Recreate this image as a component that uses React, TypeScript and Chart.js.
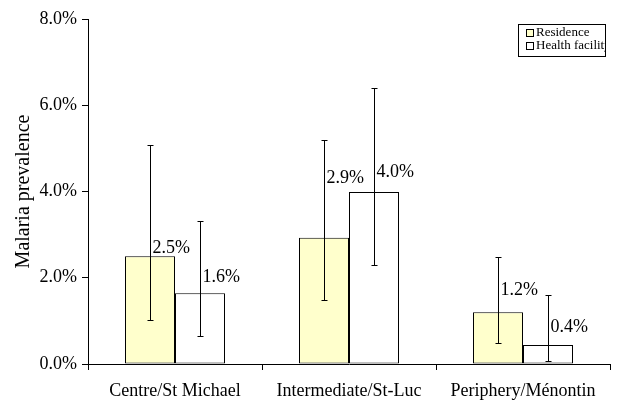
import React, { useEffect, useRef } from "react";
import { Chart, registerables } from "chart.js";

Chart.register(...registerables);

const categories = ["Centre/St Michael", "Intermediate/St-Luc", "Periphery/Ménontin"];
const seriesNames = ["Residence", "Health facility"];
const residence = [2.5, 2.93, 1.2];
const healthFacility = [1.64, 3.99, 0.44];
const residenceLow = [1.02, 1.48, 0.49];
const residenceHigh = [5.08, 5.2, 2.47];
const healthLow = [0.65, 2.3, 0.07];
const healthHigh = [3.32, 6.39, 1.6];
const yTicks = [0, 2, 4, 6, 8];

const FONT = "'Liberation Serif', 'Times New Roman', serif";
const FILLS = ["#FFFFCC", "#FFFFFF"];
// vertical lift (px) of each value label above its bar top, per series
const LABEL_LIFT = [
  [8, 59, 22],
  [16, 20, 18],
];

const errorLows = [residenceLow, healthLow];
const errorHighs = [residenceHigh, healthHigh];

const overlayPlugin = {
  id: "overlay",
  afterDatasetsDraw(chart: any) {
    const ctx = chart.ctx;
    const yScale = chart.scales.y;
    ctx.save();
    for (let d = 0; d < chart.data.datasets.length; d++) {
      const meta = chart.getDatasetMeta(d);
      const values = chart.data.datasets[d].data as number[];
      meta.data.forEach((bar: any, j: number) => {
        const x = Math.round(bar.x) + 0.5;
        const yHi = Math.round(yScale.getPixelForValue(errorHighs[d][j])) + 0.5;
        const yLo = Math.round(yScale.getPixelForValue(errorLows[d][j])) + 0.5;
        ctx.strokeStyle = "#000";
        ctx.lineWidth = 1;
        ctx.beginPath();
        ctx.moveTo(x, yHi);
        ctx.lineTo(x, yLo);
        ctx.moveTo(x - 3, yHi);
        ctx.lineTo(x + 3, yHi);
        ctx.moveTo(x - 3, yLo);
        ctx.lineTo(x + 3, yLo);
        ctx.stroke();
        ctx.fillStyle = "#000";
        ctx.font = `18px ${FONT}`;
        ctx.textAlign = "left";
        ctx.textBaseline = "middle";
        ctx.fillText(values[j].toFixed(1) + "%", x + 2, bar.y - LABEL_LIFT[d][j]);
      });
    }
    ctx.restore();
  },
  afterDraw(chart: any) {
    const ctx = chart.ctx;
    const bx = 518, by = 24, bw = 87, bh = 32;
    ctx.save();
    ctx.fillStyle = "#fff";
    ctx.fillRect(bx, by, bw, bh);
    ctx.strokeStyle = "#000";
    ctx.lineWidth = 1;
    ctx.strokeRect(bx + 0.5, by + 0.5, bw, bh);
    ctx.beginPath();
    ctx.rect(bx + 1, by + 1, bw - 1, bh - 1);
    ctx.clip();
    seriesNames.forEach((name, i) => {
      const cy = by + 9 + i * 13;
      ctx.fillStyle = FILLS[i];
      ctx.fillRect(bx + 8, cy - 4, 7, 7);
      ctx.strokeStyle = "#000";
      ctx.strokeRect(bx + 8.5, cy - 3.5, 7, 7);
      ctx.fillStyle = "#000";
      ctx.font = `13px ${FONT}`;
      ctx.textAlign = "left";
      ctx.textBaseline = "middle";
      ctx.fillText(name, bx + 18, cy);
    });
    ctx.restore();
  },
};

export default function App() {
  const ref = useRef<HTMLCanvasElement | null>(null);
  useEffect(() => {
    document.body.style.margin = "0";
    const canvas = ref.current!;
    const chart = new Chart(canvas, {
      type: "bar",
      data: {
        labels: categories,
        datasets: [residence, healthFacility].map((vals, i) => ({
          label: seriesNames[i],
          data: vals,
          backgroundColor: FILLS[i],
          borderColor: "#000",
          borderWidth: 1,
          borderSkipped: false,
          categoryPercentage: 100 / 174,
          barPercentage: 1,
        })),
      },
      options: {
        responsive: false,
        animation: false,
        devicePixelRatio: 1,
        layout: { padding: { top: 19, right: 9, left: 0, bottom: 0 } },
        plugins: { legend: { display: false }, tooltip: { enabled: false } },
        scales: {
          x: {
            offset: true,
            ticks: {
              color: "#000",
              font: { family: FONT, size: 18 },
              padding: 10,
              maxRotation: 0,
              autoSkip: false,
            },
            grid: {
              display: true,
              offset: true,
              drawOnChartArea: false,
              drawTicks: true,
              tickLength: 6,
              color: "#000",
            },
            border: { display: true, color: "#000", width: 1 },
            afterFit: (s: any) => {
              s.height = 36;
              s.paddingLeft = 0;
              s.paddingRight = 0;
            },
          },
          y: {
            min: 0,
            max: 8,
            afterBuildTicks: (s: any) => {
              s.ticks = yTicks.map((v) => ({ value: v }));
            },
            ticks: {
              color: "#000",
              font: { family: FONT, size: 18 },
              padding: 5,
              callback: (v: any) => Number(v).toFixed(1) + "%",
            },
            grid: {
              display: true,
              drawOnChartArea: false,
              drawTicks: true,
              tickLength: 6,
              color: "#000",
            },
            border: { display: true, color: "#000", width: 1 },
            title: {
              display: true,
              text: "Malaria prevalence",
              color: "#000",
              font: { family: FONT, size: 20 },
              padding: { top: 12, bottom: 0 },
            },
            afterFit: (s: any) => {
              s.width = 88;
              s.paddingTop = 0;
              s.paddingBottom = 0;
            },
          },
        },
      },
      plugins: [overlayPlugin],
    });
    return () => chart.destroy();
  }, []);
  return (
    <div style={{ width: 619, height: 400 }}>
      <canvas ref={ref} width={619} height={400} />
    </div>
  );
}
